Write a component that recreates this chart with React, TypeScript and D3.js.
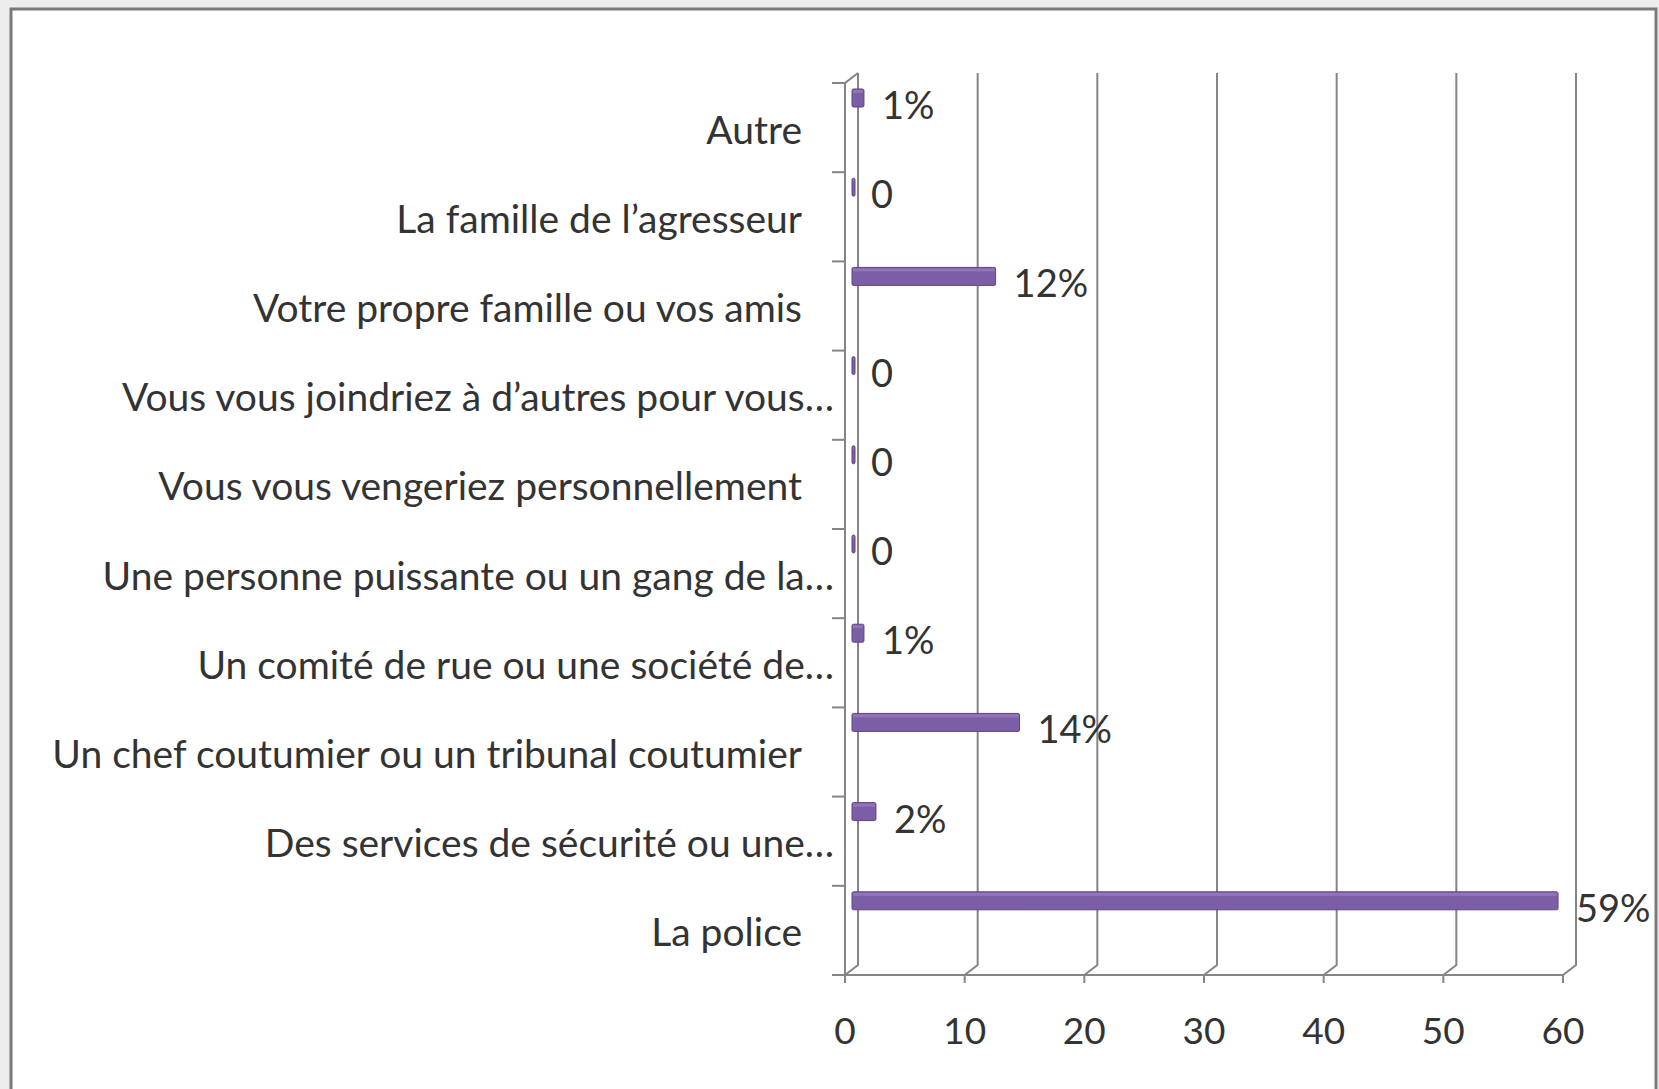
import React from "react";
import * as d3 from "d3";

const categories = [
  "Autre",
  "La famille de l’agresseur",
  "Votre propre famille ou vos amis",
  "Vous vous joindriez à d’autres pour vous…",
  "Vous vous vengeriez personnellement",
  "Une personne puissante ou un gang de la…",
  "Un comité de rue ou une société de…",
  "Un chef coutumier ou un tribunal coutumier",
  "Des services de sécurité ou une…",
  "La police",
];
const values = [1, 0, 12, 0, 0, 0, 1, 14, 2, 59];
const valueLabels = ["1%", "0", "12%", "0", "0", "0", "1%", "14%", "2%", "59%"];
const xTicks = [0, 10, 20, 30, 40, 50, 60];

const W = 1659;
const H = 1089;
const FONT = "Lato, 'Open Sans', sans-serif";
const TEXT = "#333333";
const GRID = "#858585";
const BAR = "#7c5ea6";

export default function App() {
  const x = d3.scaleLinear().domain([0, 60]).range([845, 1563]);
  const y = d3.scaleBand<string>().domain(categories).range([83, 975]).paddingInner(0).paddingOuter(0);
  const dx = 13;
  const dy = -10;
  const floorY = 975;
  const topY = 83;
  const bw = y.bandwidth();
  const bounds = d3.range(categories.length + 1).map((i) => topY + i * bw);

  return (
    <svg width={W} height={H} style={{ position: "absolute", left: 0, top: 0, display: "block" }} fontFamily={FONT}>
      <rect x={0} y={0} width={W} height={H} fill="#ededed" />
      <rect x={11} y={9} width={W - 14} height={H} fill="#ffffff" stroke="#7a7a7a" strokeWidth={3} />
      {/* back wall gridlines */}
      {xTicks.map((t) => (
        <polyline
          key={"g" + t}
          points={`${x(t) + dx},${topY + dy} ${x(t) + dx},${floorY + dy} ${x(t)},${floorY}`}
          fill="none"
          stroke={GRID}
          strokeWidth={2}
        />
      ))}
      {/* front vertical axis */}
      <polyline
        points={`${x(0) + dx},${topY + dy} ${x(0)},${topY} ${x(0)},${floorY}`}
        fill="none"
        stroke={GRID}
        strokeWidth={2}
      />
      {/* floor line */}
      <line x1={x(0) - 13} x2={x(60)} y1={floorY} y2={floorY} stroke={GRID} strokeWidth={2} />
      {bounds.map((b, i) => (
        <line key={"ct" + i} x1={x(0) - 13} x2={x(0)} y1={b} y2={b} stroke={GRID} strokeWidth={2} />
      ))}
      {xTicks.map((t) => (
        <line key={"xt" + t} x1={x(t)} x2={x(t)} y1={floorY} y2={floorY + 8} stroke={GRID} strokeWidth={2} />
      ))}
      {/* bars */}
      {categories.map((c, i) => {
        const v = values[i];
        const x0 = x(0) + 7;
        const w = Math.max(x(v) - x(0), 3);
        const by = (y(c) as number) + 6;
        return (
          <g key={"b" + i}>
            <rect x={x0} y={by} width={w} height={18} fill={BAR} stroke="#5f4585" strokeWidth={1} rx={1.5} />
            <rect x={x0 + 1} y={by + 1} width={Math.max(w - 2, 1)} height={3} fill="#a18ac2" opacity={0.55} />
          </g>
        );
      })}
      {/* value labels */}
      {categories.map((c, i) => {
        const v = values[i];
        const end = x(0) + 7 + Math.max(x(v) - x(0), 3);
        return (
          <text
            key={"vl" + i}
            x={end + (v === 0 ? 16 : 18)}
            y={(y(c) as number) + 15 + 6}
            dominantBaseline="central"
            fontSize={38}
            fill={TEXT}
          >
            {valueLabels[i]}
          </text>
        );
      })}
      {/* category labels */}
      {categories.map((c) => (
        <text
          key={"cl" + c}
          x={c.endsWith("…") ? 834 : 802}
          y={(y(c) as number) + bw / 2 + 1}
          dominantBaseline="central"
          textAnchor="end"
          fontSize={39}
          fill={TEXT}
        >
          {c}
        </text>
      ))}
      {/* x tick labels */}
      {xTicks.map((t) => (
        <text
          key={"xl" + t}
          x={x(t)}
          y={1029}
          dominantBaseline="central"
          textAnchor="middle"
          fontSize={37}
          fill={TEXT}
        >
          {t}
        </text>
      ))}
    </svg>
  );
}
